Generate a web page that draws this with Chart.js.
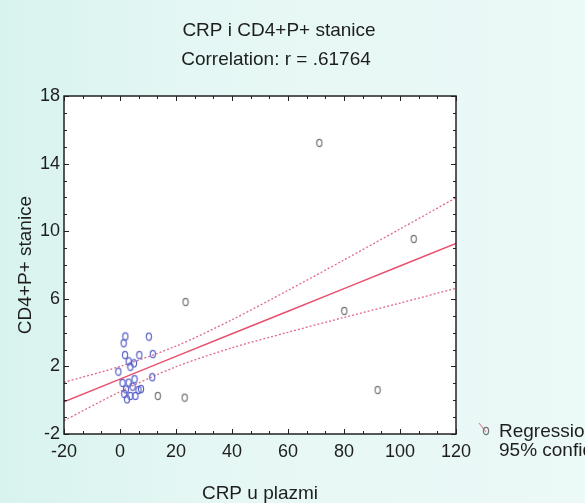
<!DOCTYPE html>
<html>
<head>
<meta charset="utf-8">
<script src="https://cdn.jsdelivr.net/npm/chart.js@4.4.0/dist/chart.umd.min.js"></script>
<style>
html, body { margin: 0; padding: 0; }
body {
    width: 585px; height: 503px; overflow: hidden;
    background: linear-gradient(90deg, #d8f3ef 0%, #e5f7f4 35%, #ebf9f7 100%);
}
canvas { display: block; }
</style>
</head>
<body>
<canvas id="crpChart" width="585" height="503"></canvas>
<script>
// CRP u plazmi (x) against CD4+P+ stanice (y)
const crpValues = [1.9, 1.3, 10.3, 1.8, 6.9, 11.7, 3.1, 5.0, 3.7, -0.6, 11.5, 0.9, 3.1, 5.2, 2.1,
    4.5, 6.6, 7.5, 1.5, 3.7, 5.5, 2.5, 13.5, 23.1, 23.4, 71.2, 104.9, 80.1, 92.0];
const cd4Values = [3.77, 3.37, 3.76, 2.67, 2.67, 2.73, 2.30, 2.18, 1.98, 1.69, 1.36, 1.02, 1.04, 1.24, 0.64,
    0.80, 0.60, 0.66, 0.37, 0.25, 0.25, 0.05, 0.25, 0.15, 5.81, 15.22, 9.54, 5.28, 0.60];

// regression line and 95% band, read at these x positions
const lineX = [-20, 0, 20, 40, 60, 80, 100, 120];
const regressionY = [-0.09, 1.25, 2.59, 3.93, 5.26, 6.60, 7.94, 9.28];
const upperBand = [1.06, 2.00, 3.20, 4.76, 6.50, 8.30, 10.13, 11.98];
const lowerBand = [-1.21, 0.50, 1.98, 3.10, 4.02, 4.90, 5.75, 6.62];

const xTicks = [-20, 0, 20, 40, 60, 80, 100, 120];
const yTicks = [-2, 2, 6, 10, 14, 18];

const fontFamily = '"Liberation Sans", Arial, sans-serif';
const textColor = '#1e1e1e';

function ellipseMarker(color) {
    const c = document.createElement('canvas');
    c.width = 8;
    c.height = 10;
    const g = c.getContext('2d');
    g.strokeStyle = color;
    g.lineWidth = 1.2;
    g.beginPath();
    g.ellipse(4, 5, 2.6, 3.6, 0, 0, Math.PI * 2);
    g.stroke();
    return c;
}
const blueMarker = ellipseMarker('#5a62c8');
const greyMarker = ellipseMarker('#767676');

const toPoints = (xs, ys) => xs.map((x, i) => ({ x: x, y: ys[i] }));

// white plot area, frame with inward ticks, titles and the clipped legend
const statisticaLook = {
    id: 'statisticaLook',
    beforeDraw(chart) {
        const { ctx, chartArea: a } = chart;
        ctx.save();
        ctx.fillStyle = '#ffffff';
        ctx.fillRect(a.left, a.top, a.right - a.left, a.bottom - a.top);
        ctx.restore();
    },
    afterDraw(chart) {
        const { ctx, chartArea: a } = chart;
        const xs = chart.scales.x, ys = chart.scales.y;
        ctx.save();
        ctx.strokeStyle = '#222';
        ctx.lineWidth = 1.5;
        ctx.strokeRect(a.left, a.top, a.right - a.left, a.bottom - a.top);

        ctx.lineWidth = 1;
        ctx.beginPath();
        for (let i = 0; i <= 21; i++) {
            const px = Math.round(xs.getPixelForValue(-20 + i * 20 / 3)) + 0.5;
            const len = i % 3 === 0 ? 5 : 3;
            ctx.moveTo(px, a.bottom); ctx.lineTo(px, a.bottom - len);
            ctx.moveTo(px, a.top); ctx.lineTo(px, a.top + len);
        }
        for (let v = -2; v <= 18; v++) {
            const py = Math.round(ys.getPixelForValue(v)) + 0.5;
            const len = (v + 2) % 4 === 0 ? 5 : 3;
            ctx.moveTo(a.left, py); ctx.lineTo(a.left + len, py);
            ctx.moveTo(a.right, py); ctx.lineTo(a.right - len, py);
        }
        ctx.stroke();

        ctx.fillStyle = textColor;
        ctx.font = '19px ' + fontFamily;
        ctx.textAlign = 'center';
        ctx.textBaseline = 'middle';
        ctx.fillText('CRP i CD4+P+ stanice', 279, 31);
        ctx.fillText('Correlation: r = .61764', 276, 60);

        // legend, cut by the right edge as in the original
        ctx.strokeStyle = '#d98a9a';
        ctx.lineWidth = 1.2;
        ctx.beginPath();
        ctx.moveTo(479, 423);
        ctx.lineTo(486, 432);
        ctx.stroke();
        ctx.drawImage(greyMarker, 482, 426);
        ctx.textAlign = 'left';
        ctx.fillText('Regression', 499, 432);
        ctx.fillText('95% confid.', 499, 451);
        ctx.restore();
    }
};

new Chart(document.getElementById('crpChart'), {
    type: 'scatter',
    data: {
        datasets: [
            {
                label: 'CD4+P+ stanice',
                data: toPoints(crpValues, cd4Values),
                pointStyle: ctx => (ctx.raw && ctx.raw.x < 13 ? blueMarker : greyMarker),
                pointRadius: 4,
                order: 0
            },
            {
                label: 'Regression',
                data: toPoints(lineX, regressionY),
                showLine: true,
                borderColor: '#e8506e',
                borderWidth: 1.5,
                pointRadius: 0,
                order: 1
            },
            {
                label: '95% confid. upper',
                data: toPoints(lineX, upperBand),
                showLine: true,
                borderColor: '#e06a88',
                borderWidth: 1.3,
                borderDash: [2, 2],
                tension: 0.3,
                pointRadius: 0,
                order: 2
            },
            {
                label: '95% confid. lower',
                data: toPoints(lineX, lowerBand),
                showLine: true,
                borderColor: '#e06a88',
                borderWidth: 1.3,
                borderDash: [2, 2],
                tension: 0.3,
                pointRadius: 0,
                order: 2
            }
        ]
    },
    options: {
        responsive: false,
        animation: false,
        devicePixelRatio: 1,
        layout: { padding: { left: 0, top: 96, right: 129, bottom: 0 } },
        plugins: {
            legend: { display: false },
            tooltip: { enabled: false }
        },
        scales: {
            x: {
                type: 'linear',
                min: -20,
                max: 120,
                afterBuildTicks: scale => { scale.ticks = xTicks.map(v => ({ value: v })); },
                afterFit: scale => { scale.height = 69; },
                grid: { display: false, drawTicks: false },
                border: { display: false },
                ticks: { padding: 7, color: textColor, font: { size: 18, family: fontFamily } },
                title: {
                    display: true,
                    text: 'CRP u plazmi',
                    color: textColor,
                    font: { size: 19, family: fontFamily, lineHeight: 1.2 },
                    padding: { top: 0, bottom: -2 }
                }
            },
            y: {
                type: 'linear',
                min: -2,
                max: 18,
                afterBuildTicks: scale => { scale.ticks = yTicks.map(v => ({ value: v })); },
                afterFit: scale => { scale.width = 64; },
                grid: { display: false, drawTicks: false },
                border: { display: false },
                ticks: { padding: 4, color: textColor, font: { size: 18, family: fontFamily } },
                title: {
                    display: true,
                    text: 'CD4+P+ stanice',
                    color: textColor,
                    font: { size: 19, family: fontFamily, lineHeight: 1.2 },
                    padding: { top: 14, bottom: 0 }
                }
            }
        }
    },
    plugins: [statisticaLook]
});
</script>
</body>
</html>
